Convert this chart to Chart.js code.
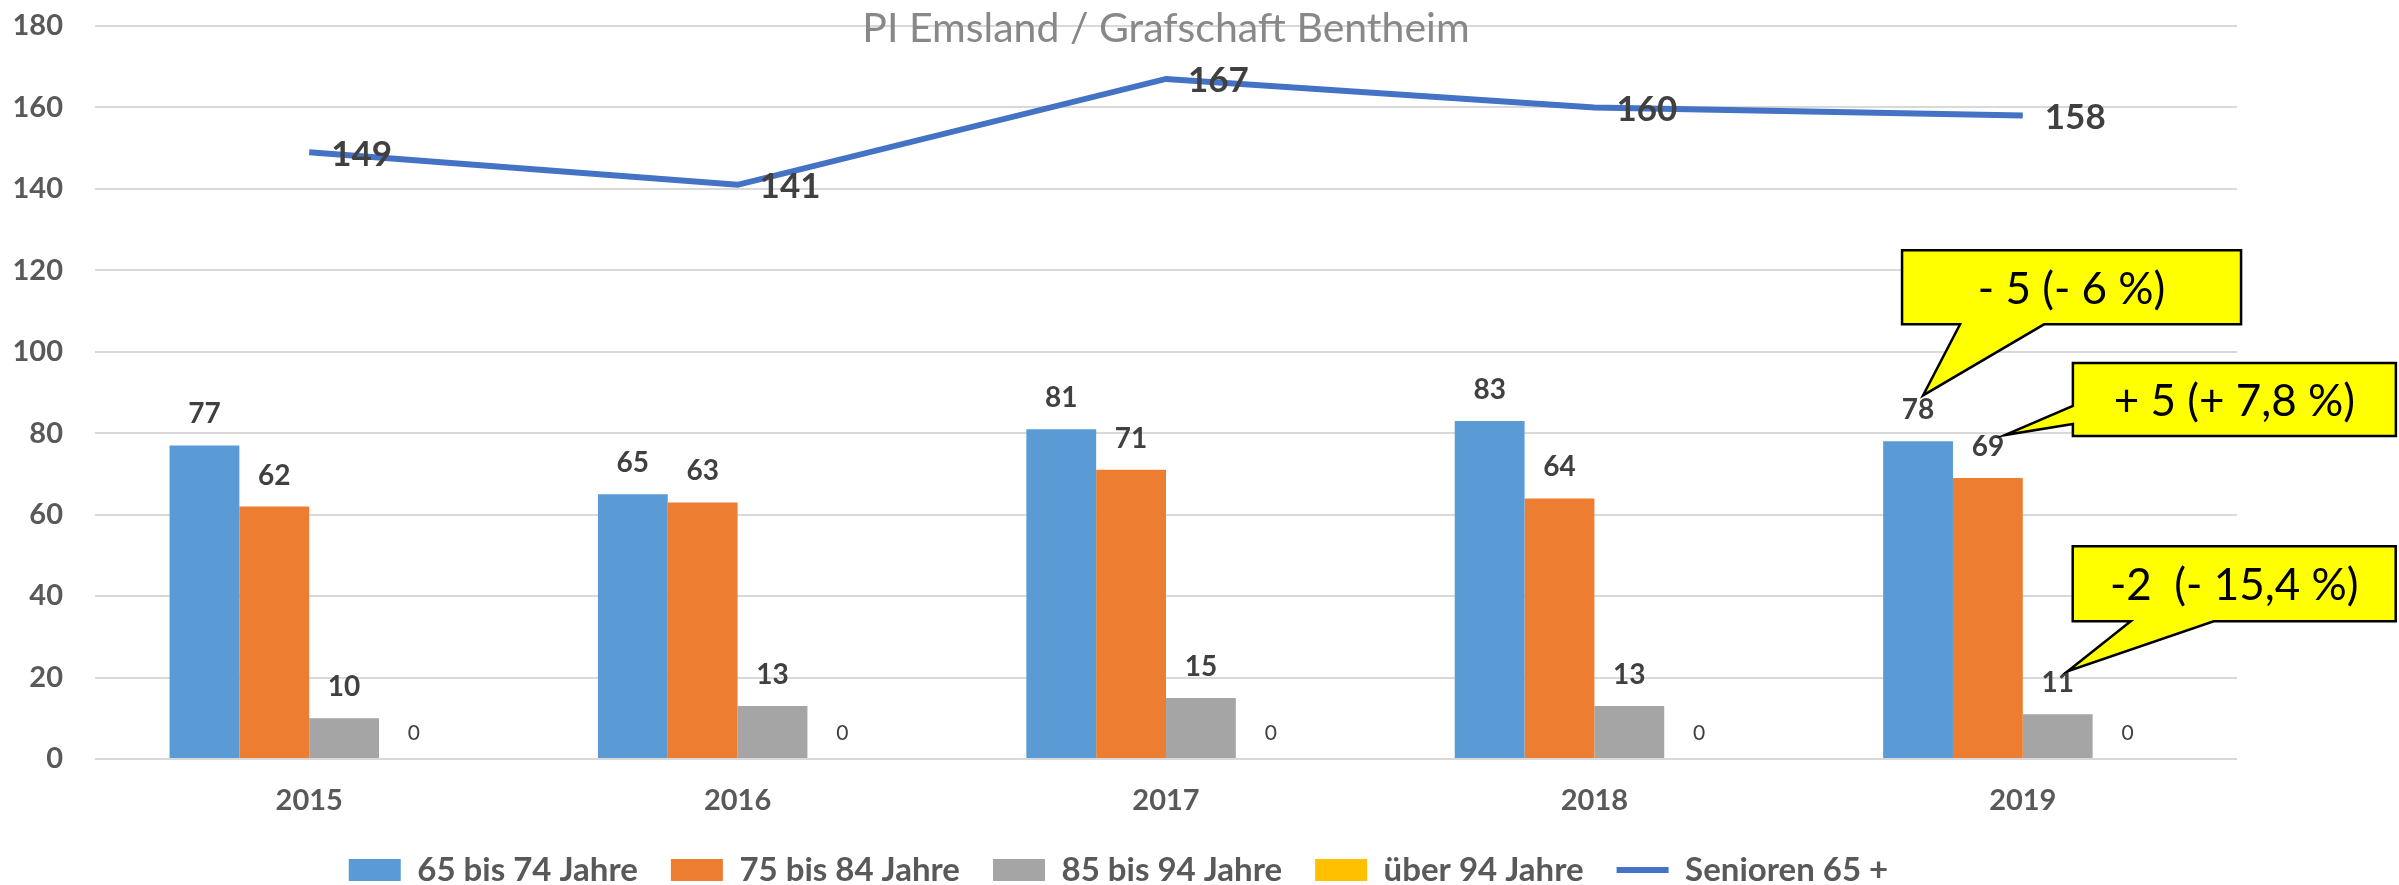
<!DOCTYPE html>
<html lang="de">
<head>
<meta charset="utf-8">
<title>PI Emsland / Grafschaft Bentheim</title>
<script src="https://cdn.jsdelivr.net/npm/chart.js@4.4.1/dist/chart.umd.min.js"></script>
<style>
  html, body { margin: 0; padding: 0; background: #fff; }
  canvas { display: block; }
</style>
</head>
<body>
<canvas id="chart" width="2399" height="885"></canvas>
<script>
const jahre = ['2015', '2016', '2017', '2018', '2019'];
const alter65bis74 = [77, 65, 81, 83, 78];
const alter75bis84 = [62, 63, 71, 64, 69];
const alter85bis94 = [10, 13, 15, 13, 11];
const ueber94 = [0, 0, 0, 0, 0];
const senioren65 = [149, 141, 167, 160, 158];
const titel = 'PI Emsland / Grafschaft Bentheim';
const calloutTexte = ['- 5 (- 6 %)', '+ 5 (+ 7,8 %)', '-2  (- 15,4 %)'];

const FONT = 'Lato';
const GRAU_TXT = '#595959';

// Werte über den Balken / neben der Linie
const wertLabels = {
  id: 'wertLabels',
  afterDatasetsDraw(chart) {
    const { ctx } = chart;
    chart.data.datasets.forEach((ds, di) => {
      const meta = chart.getDatasetMeta(di);
      meta.data.forEach((el, i) => {
        const v = ds.data[i];
        ctx.save();
        ctx.fillStyle = '#404040';
        ctx.textBaseline = 'middle';
        if (ds.type === 'line') {
          ctx.font = `bold 35px ${FONT}`;
          ctx.textAlign = 'left';
          ctx.fillText(String(v), el.x + 22, el.y + 2);
        } else if (v === 0) {
          ctx.font = `21px ${FONT}`;
          ctx.textAlign = 'center';
          ctx.fillText('0', el.x, el.y - 26);
        } else {
          ctx.font = `bold 28px ${FONT}`;
          ctx.textAlign = 'center';
          ctx.fillText(String(v), el.x, el.y - 31);
        }
        ctx.restore();
      });
    });
  }
};

// Titel liegt im Diagrammbereich (wie in Excel), daher selbst gezeichnet
const titelPlugin = {
  id: 'titelPlugin',
  afterDraw(chart) {
    const { ctx, chartArea } = chart;
    ctx.save();
    ctx.font = `41px ${FONT}`;
    ctx.fillStyle = '#888888';
    ctx.textAlign = 'center';
    ctx.textBaseline = 'alphabetic';
    ctx.fillText(titel, (chartArea.left + chartArea.right) / 2, chartArea.top + 16);
    ctx.restore();
  }
};

// gelbe Sprechblasen, relativ zum Balken (x = Mitte, y = Oberkante)
const calloutLayout = [
  { ds: 0, i: 4, tip: [5, -46], box: [-16, -191, 323, -117], tail: 'bottom', base: [42, 126] },
  { ds: 1, i: 4, tip: [17, -43], box: [85, -115, 408, -42], tail: 'left', base: [-72, -54] },
  { ds: 2, i: 4, tip: [10, -43], box: [15, -168, 338, -93], tail: 'bottom', base: [73, 156] }
];

const calloutPlugin = {
  id: 'calloutPlugin',
  afterDraw(chart) {
    const { ctx } = chart;
    calloutLayout.forEach((c, n) => {
      const el = chart.getDatasetMeta(c.ds).data[c.i];
      const x = el.x, y = el.y;
      const l = x + c.box[0], t = y + c.box[1], r = x + c.box[2], b = y + c.box[3];
      const tx = x + c.tip[0], ty = y + c.tip[1];
      ctx.save();
      ctx.beginPath();
      ctx.moveTo(l, t);
      ctx.lineTo(r, t);
      ctx.lineTo(r, b);
      if (c.tail === 'bottom') {
        ctx.lineTo(x + c.base[1], b);
        ctx.lineTo(tx, ty);
        ctx.lineTo(x + c.base[0], b);
        ctx.lineTo(l, b);
      } else {
        ctx.lineTo(l, b);
        ctx.lineTo(l, y + c.base[1]);
        ctx.lineTo(tx, ty);
        ctx.lineTo(l, y + c.base[0]);
      }
      ctx.closePath();
      ctx.fillStyle = '#FFFF00';
      ctx.fill();
      ctx.lineWidth = 2.5;
      ctx.lineJoin = 'miter';
      ctx.strokeStyle = '#000';
      ctx.stroke();
      ctx.fillStyle = '#000';
      ctx.font = `44px ${FONT}`;
      ctx.textAlign = 'center';
      ctx.textBaseline = 'middle';
      ctx.fillText(calloutTexte[n], (l + r) / 2, (t + b) / 2 + 2);
      ctx.restore();
    });
  }
};

const ctx = document.getElementById('chart').getContext('2d');

new Chart(ctx, {
  type: 'bar',
  data: {
    labels: jahre,
    datasets: [
      { label: '65 bis 74 Jahre', data: alter65bis74, backgroundColor: '#5B9BD5', pointStyle: 'rect' },
      { label: '75 bis 84 Jahre', data: alter75bis84, backgroundColor: '#ED7D31', pointStyle: 'rect' },
      { label: '85 bis 94 Jahre', data: alter85bis94, backgroundColor: '#A5A5A5', pointStyle: 'rect' },
      { label: 'über 94 Jahre', data: ueber94, backgroundColor: '#FFC000', pointStyle: 'rect' },
      {
        type: 'line', label: 'Senioren 65 +', data: senioren65,
        borderColor: '#4472C4', backgroundColor: '#4472C4', borderWidth: 6,
        pointRadius: 0, tension: 0, pointStyle: 'line'
      }
    ]
  },
  options: {
    responsive: false, animation: false,
    layout: { padding: { top: 26, right: 162, bottom: -11.5, left: 0 } },
    datasets: { bar: { categoryPercentage: 0.652, barPercentage: 1 } },
    plugins: {
      tooltip: { enabled: false },
      title: { display: false },
      legend: {
        position: 'bottom',
        labels: {
          usePointStyle: true, pointStyleWidth: 52, boxHeight: 22, padding: 33,
          color: GRAU_TXT, font: { family: FONT, weight: 'bold', size: 33 }
        }
      }
    },
    scales: {
      x: {
        grid: { display: false }, border: { display: false },
        ticks: { color: GRAU_TXT, font: { family: FONT, weight: 'bold', size: 29 }, padding: 16 },
        afterFit: (s) => { s.height = 61.5; }
      },
      y: {
        min: 0, max: 180,
        ticks: { stepSize: 20, color: GRAU_TXT, font: { family: FONT, weight: 'bold', size: 29 }, padding: 32 },
        grid: { color: '#d9d9d9', lineWidth: 2, drawTicks: false },
        border: { display: false },
        afterFit: (s) => { s.width = 95; s.paddingTop = 0; s.paddingBottom = 0; }
      }
    }
  },
  plugins: [wertLabels, titelPlugin, calloutPlugin]
});
</script>
</body>
</html>
